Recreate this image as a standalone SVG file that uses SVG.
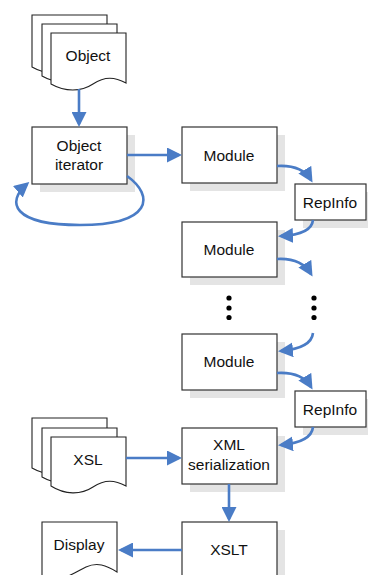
<svg xmlns="http://www.w3.org/2000/svg" width="368" height="575" viewBox="0 0 368 575">
<style>
.box{fill:#fff;stroke:#333;stroke-width:1.2}
.sh{fill:#e4e4e4}
.doc{fill:#fff;stroke:#222;stroke-width:1.1}
.t{font-family:"Liberation Sans",Arial,sans-serif;font-size:15.5px;fill:#111;text-anchor:middle}
.c{fill:none;stroke:#4a7cc6;stroke-width:2.6}
.dot{fill:#000}
</style>
<defs>
<marker id="ah" viewBox="0 0 10 10" refX="8" refY="5" markerUnits="userSpaceOnUse" markerWidth="15" markerHeight="15" orient="auto">
<path d="M0,0 L10,5 L0,10 z" fill="#4a7cc6"/>
</marker>
</defs>
<g id="object-stack">
<path class="doc" d="M32,15 H107 V66 C96,61 86,61 74,68 C62,75 46,75 32,67 Z"/>
<path class="doc" d="M42,24 H117 V75 C106,70 96,70 84,77 C72,84 56,84 42,76 Z"/>
<path class="doc" d="M51,33 H126 V83 C115,77 105,76 93,84 C81,92 65,92 51,84 Z"/>
<text class="t" x="88" y="61">Object</text>
</g>
<g id="object-iterator">
<rect class="sh" x="40" y="135" width="95" height="57"/>
<rect class="box" x="32" y="127" width="95" height="57"/>
<text class="t" x="79" y="151">Object</text>
<text class="t" x="79" y="170">iterator</text>
</g>
<g id="module1">
<rect class="sh" x="190" y="135" width="95" height="56"/>
<rect class="box" x="182" y="127" width="95" height="56"/>
<text class="t" x="229" y="161">Module</text>
</g>
<g id="repinfo1">
<rect class="sh" x="303" y="192" width="71" height="36"/>
<rect class="box" x="295" y="184" width="71" height="36"/>
<text class="t" x="330" y="208">RepInfo</text>
</g>
<g id="module2">
<rect class="sh" x="190" y="230" width="95" height="55"/>
<rect class="box" x="182" y="222" width="95" height="55"/>
<text class="t" x="229" y="255">Module</text>
</g>
<g id="dots-left">
<circle class="dot" cx="229" cy="298" r="2.6"/>
<circle class="dot" cx="229" cy="308" r="2.6"/>
<circle class="dot" cx="229" cy="317.5" r="2.6"/>
</g>
<g id="dots-right">
<circle class="dot" cx="314" cy="298" r="2.6"/>
<circle class="dot" cx="314" cy="308" r="2.6"/>
<circle class="dot" cx="314" cy="317.5" r="2.6"/>
</g>
<g id="module3">
<rect class="sh" x="190" y="342" width="95" height="56"/>
<rect class="box" x="182" y="334" width="95" height="56"/>
<text class="t" x="229" y="367">Module</text>
</g>
<g id="repinfo2">
<rect class="sh" x="303" y="399" width="71" height="36"/>
<rect class="box" x="295" y="391" width="71" height="36"/>
<text class="t" x="330" y="415">RepInfo</text>
</g>
<g id="xml-serialization">
<rect class="sh" x="190" y="436" width="95" height="56"/>
<rect class="box" x="182" y="428" width="95" height="56"/>
<text class="t" x="229" y="450">XML</text>
<text class="t" x="229" y="470">serialization</text>
</g>
<g id="xsl-stack">
<path class="doc" d="M32,418 H107 V467 C96,462 86,462 74,469 C62,476 46,476 32,468 Z"/>
<path class="doc" d="M42,428 H117 V476 C106,471 96,471 84,478 C72,485 56,485 42,477 Z"/>
<path class="doc" d="M51,437 H126 V486 C115,480 105,479 93,487 C81,495 65,495 51,486 Z"/>
<text class="t" x="88" y="465">XSL</text>
</g>
<g id="xslt">
<rect class="sh" x="190" y="530" width="95" height="60"/>
<rect class="box" x="182" y="522" width="95" height="60"/>
<text class="t" x="229" y="555">XSLT</text>
</g>
<g id="display">
<path class="doc" d="M42,522 H117 V572 C106,565 97,562 86,567 C74,573 58,585 42,576 Z"/>
<text class="t" x="79" y="550">Display</text>
</g>
<g id="connectors">
<path class="c" marker-end="url(#ah)" d="M79,89 V124"/>
<path class="c" marker-end="url(#ah)" d="M127,155 H179"/>
<path class="c" marker-end="url(#ah)" d="M127,176 C155,196 152,225 80,225 C12,225 6,202 27,184"/>
<path class="c" marker-end="url(#ah)" d="M277,166 C294,165 305,170 311,180"/>
<path class="c" marker-end="url(#ah)" d="M313,220 C312,230 302,235 281,236"/>
<path class="c" marker-end="url(#ah)" d="M277,259 C294,258 305,264 311,274"/>
<path class="c" marker-end="url(#ah)" d="M313,333 C312,343 302,349 281,351"/>
<path class="c" marker-end="url(#ah)" d="M277,373 C294,372 305,377 311,387"/>
<path class="c" marker-end="url(#ah)" d="M313,427 C312,437 302,443 281,445"/>
<path class="c" marker-end="url(#ah)" d="M229,484 V519"/>
<path class="c" marker-end="url(#ah)" d="M126,458 H179"/>
<path class="c" marker-end="url(#ah)" d="M182,550 H121"/>
</g>
</svg>
